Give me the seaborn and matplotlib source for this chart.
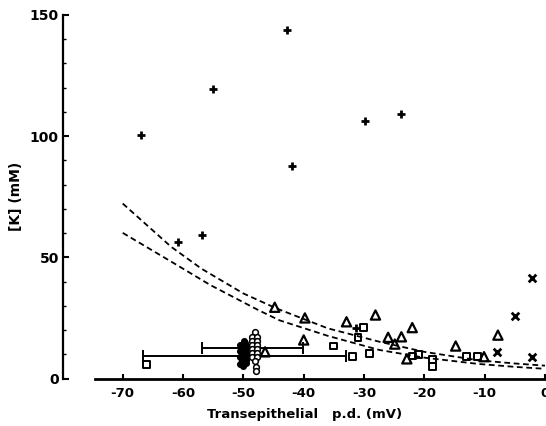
import numpy as np
import pandas as pd
import seaborn as sns
import matplotlib
matplotlib.use("Agg")
from matplotlib import pyplot as plt
from matplotlib.ticker import MultipleLocator

# transepithelial p.d. (mV) and [K] (mM)
plus_pd = [-66.9, -60.9, -56.8, -55.0, -42.7, -42.0, -31.3, -29.9, -23.9]
plus_k = [100.5, 56.3, 59.3, 119.3, 143.7, 87.5, 20.7, 106.3, 109.1]

tri_pd = [-44.8, -39.8, -40.0, -46.4, -32.9, -28.1, -26.0, -24.9, -23.8, -22.0, -22.9, -14.8, -10.1, -7.8]
tri_k = [29.4, 25.0, 15.9, 11.0, 23.4, 26.2, 17.0, 14.2, 17.2, 21.0, 8.1, 13.4, 9.0, 17.9]

sq_pd = [-66.0, -35.0, -31.9, -31.0, -30.1, -29.1, -22.0, -20.9, -18.7, -18.6, -13.0, -11.2]
sq_k = [5.8, 13.4, 9.0, 16.8, 21.0, 10.4, 9.3, 9.8, 7.8, 5.0, 9.0, 9.2]

cross_pd = [-7.9, -4.9, -2.2, -2.1]
cross_k = [11.1, 25.8, 41.3, 8.7]

circ_pd = [-48.1, -48.5, -47.7, -48.5, -47.7, -48.5, -47.7, -48.5, -47.7,
           -48.5, -47.7, -48.5, -47.7, -48.1, -47.9, -47.9]
circ_k = [19.1, 17.2, 17.2, 15.5, 15.5, 13.8, 13.8, 12.2, 12.2,
          10.4, 10.4, 8.7, 8.7, 7.2, 4.9, 3.1]

fill_pd = [-50.5, -49.6, -50.3, -49.5, -50.5, -49.6, -50.3, -49.5,
           -50.5, -49.6, -50.3, -49.5, -50.5, -49.7, -50.1, -49.9]
fill_k = [5.8, 6.2, 7.4, 7.8, 8.8, 9.3, 10.2, 10.6,
          11.4, 12.0, 12.8, 13.3, 14.0, 14.6, 5.0, 15.3]

# mean +/- SD bars
eb_pd = [-48.5, -49.85]
eb_k = [12.4, 9.3]
eb_sd = [8.4, 16.85]

# dashed curves
up_pd = [-70, -62, -57, -50, -44.5, -36, -27.5, -20, -11, -5, 0]
up_k = [72.2, 54.4, 45.4, 35.1, 28.9, 20.7, 15.2, 11.0, 7.5, 6.2, 5.3]
lo_pd = [-70, -61, -55.5, -47.5, -44, -36, -27.5, -20, -11, -5, 0]
lo_k = [60.1, 46.8, 38.6, 28.2, 24.0, 17.6, 11.8, 8.6, 6.0, 4.8, 4.0]

sns.set_style("ticks", {"axes.edgecolor": "black", "text.color": "black",
                        "xtick.color": "black", "ytick.color": "black",
                        "axes.labelcolor": "black"})
plt.rcParams['font.family'] = ['DejaVu Sans']
plt.rcParams['axes.unicode_minus'] = False

fig = plt.figure(figsize=(5.46, 4.26), dpi=100)
ax = fig.add_axes([63 / 546, 47.5 / 426, 483 / 546, 363.5 / 426])

dash = (0, (3.2, 2.0))
sns.lineplot(x=up_pd, y=up_k, color="k", lw=1.3, linestyle=dash, ax=ax)
sns.lineplot(x=lo_pd, y=lo_k, color="k", lw=1.3, linestyle=dash, ax=ax)

ax.errorbar(eb_pd, eb_k, xerr=eb_sd, fmt="none", ecolor="k", elinewidth=1.4,
            capsize=4, capthick=1.4, zorder=2)

sns.scatterplot(x=fill_pd, y=fill_k, marker="o", s=18, color="k",
                edgecolor="k", linewidth=0.8, ax=ax, zorder=3)
sns.scatterplot(x=circ_pd, y=circ_k, marker="o", s=17, facecolor="white",
                edgecolor="k", linewidth=1.1, ax=ax, zorder=4)
sns.scatterplot(x=tri_pd, y=tri_k, marker="^", s=44, facecolor="none",
                edgecolor="k", linewidth=1.6, ax=ax, zorder=3)
sns.scatterplot(x=sq_pd, y=sq_k, marker="s", s=24, facecolor="none",
                edgecolor="k", linewidth=1.4, ax=ax, zorder=3)
sns.scatterplot(x=plus_pd, y=plus_k, marker="+", s=40, color="k",
                linewidth=2.0, ax=ax, zorder=3)
sns.scatterplot(x=cross_pd, y=cross_k, marker="x", s=30, color="k",
                linewidth=2.0, ax=ax, zorder=3)

ax.set_xlim(-79.9, 0.17)
ax.set_ylim(0, 150)
ax.set_xticks([-70, -60, -50, -40, -30, -20, -10, 0])
ax.set_yticks([0, 50, 100, 150])
ax.yaxis.set_minor_locator(MultipleLocator(10))

sns.despine(ax=ax)
ax.spines["left"].set_bounds(0, 150)
ax.spines["bottom"].set_bounds(-74.6, 0.17)
ax.spines["left"].set_linewidth(1.6)
ax.spines["bottom"].set_linewidth(2.0)

ax.tick_params(axis="x", direction="in", length=3.5, width=1.5, pad=6,
               labelsize=9.5)
ax.tick_params(axis="y", which="major", direction="in", length=4.5, width=1.5,
               pad=3, labelsize=10)
ax.tick_params(axis="y", which="minor", direction="in", length=2.2, width=1.0)
for lab in ax.get_xticklabels() + ax.get_yticklabels():
    lab.set_fontweight("bold")

ax.set_xlabel("Transepithelial   p.d. (mV)", fontsize=9.5, fontweight="bold",
              labelpad=6)
ax.set_ylabel("[K] (mM)", fontsize=10, fontweight="bold", labelpad=5)

fig.savefig("out.png", dpi=100)
